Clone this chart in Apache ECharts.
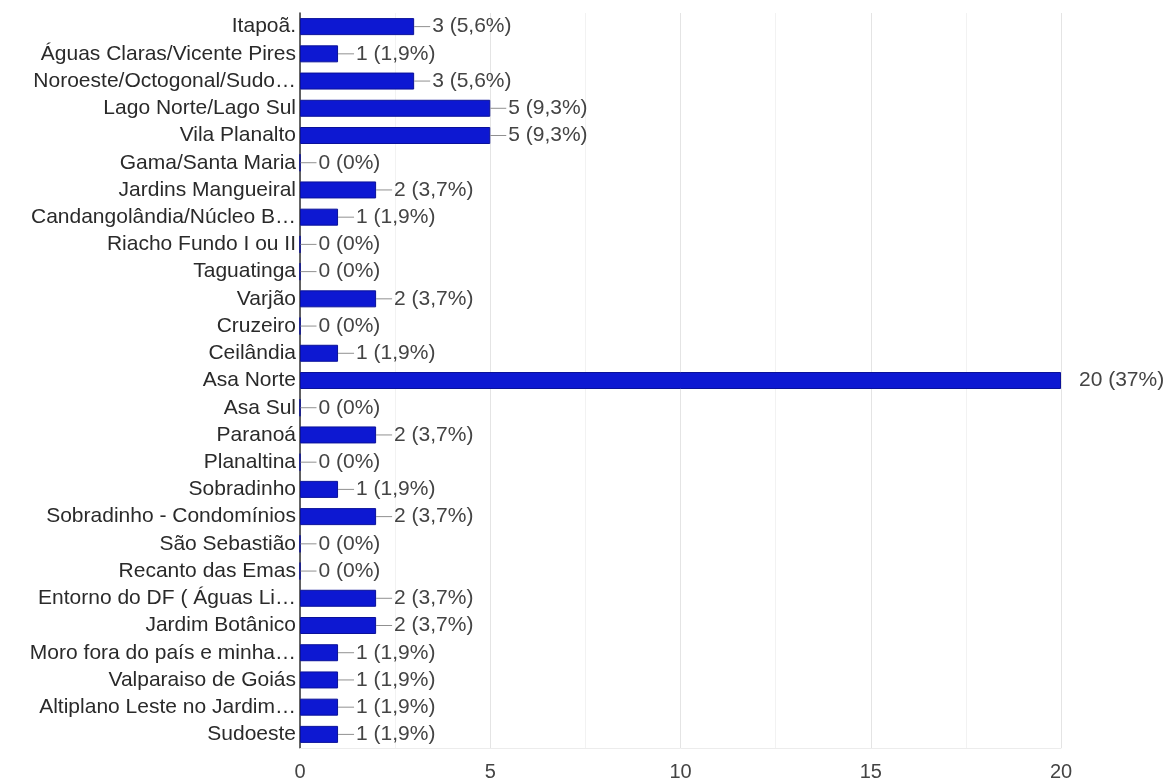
<!DOCTYPE html>
<html>
<head>
<meta charset="utf-8">
<script src="https://cdn.jsdelivr.net/npm/echarts@6/dist/echarts.min.js"></script>
<style>
  html, body { margin: 0; padding: 0; background: #fff; }
  #chart { width: 1172px; height: 784px; }
</style>
</head>
<body>
<div id="chart"></div>
<script>
// Região onde mora (respostas por região)
const categories = [
  'Itapoã.', 'Águas Claras/Vicente Pires', 'Noroeste/Octogonal/Sudo…',
  'Lago Norte/Lago Sul', 'Vila Planalto', 'Gama/Santa Maria',
  'Jardins Mangueiral', 'Candangolândia/Núcleo B…', 'Riacho Fundo I ou II',
  'Taguatinga', 'Varjão', 'Cruzeiro', 'Ceilândia', 'Asa Norte', 'Asa Sul',
  'Paranoá', 'Planaltina', 'Sobradinho', 'Sobradinho - Condomínios',
  'São Sebastião', 'Recanto das Emas', 'Entorno do DF ( Águas Li…',
  'Jardim Botânico', 'Moro fora do país e minha…', 'Valparaiso de Goiás',
  'Altiplano Leste no Jardim…', 'Sudoeste'
];
const counts = [3, 1, 3, 5, 5, 0, 2, 1, 0, 0, 2, 0, 1, 20, 0, 2, 0, 1, 2, 0, 0, 2, 2, 1, 1, 1, 1];
const percents = [
  '5,6%', '1,9%', '5,6%', '9,3%', '9,3%', '0%', '3,7%', '1,9%', '0%',
  '0%', '3,7%', '0%', '1,9%', '37%', '0%', '3,7%', '0%', '1,9%', '3,7%',
  '0%', '0%', '3,7%', '3,7%', '1,9%', '1,9%', '1,9%', '1,9%'
];
const xTicks = [0, 5, 10, 15, 20];

const FONT = '"Liberation Sans", Arial, sans-serif';
const xMax = xTicks[xTicks.length - 1];

const barData = counts.map((v, i) => {
  const item = { value: v };
  if (v >= xMax) {
    // full-width bar: value text sits beyond the plot without a leader
    item.label = {
      formatter: () => v + ' (' + percents[i] + ')',
      distance: 18
    };
  }
  return item;
});

const chart = echarts.init(document.getElementById('chart'), null, { renderer: 'canvas' });
chart.setOption({
  animation: false,
  backgroundColor: '#ffffff',
  grid: { left: 300, right: 111, top: 13, bottom: 36, containLabel: false },
  xAxis: {
    type: 'value',
    min: 0,
    max: xMax,
    interval: 5,
    axisLine: { show: true, lineStyle: { color: '#ececec', width: 1 } },
    axisTick: { show: false },
    axisLabel: {
      color: '#444',
      fontFamily: FONT,
      fontSize: 20,
      margin: 14,
      formatter: v => xTicks.includes(v) ? String(v) : ''
    },
    splitLine: { show: true, lineStyle: { color: '#e4e4e4', width: 1 } },
    minorTick: { show: false, splitNumber: 2 },
    minorSplitLine: { show: true, lineStyle: { color: '#f2f2f2', width: 1 } }
  },
  yAxis: {
    type: 'category',
    data: categories,
    inverse: true,
    axisLine: { show: true, lineStyle: { color: '#333', width: 1.5 } },
    axisTick: { show: false },
    axisLabel: {
      interval: 0,
      color: '#2a2a2a',
      fontFamily: FONT,
      fontSize: 21,
      margin: 4
    },
    splitLine: { show: false }
  },
  series: [{
    type: 'bar',
    data: barData,
    barWidth: 17,
    itemStyle: { color: '#0d18d2', borderColor: '#0a1199', borderWidth: 1 },
    label: {
      show: true,
      position: 'right',
      distance: 0,
      fontFamily: FONT,
      fontSize: 21,
      color: '#444',
      formatter: p => '{ln|}{t|' + p.value + ' (' + percents[p.dataIndex] + ')}',
      rich: {
        ln: { width: 16, height: 1, backgroundColor: '#909090', verticalAlign: 'middle' },
        t: { fontFamily: FONT, fontSize: 21, color: '#444', padding: [0, 0, 0, 2] }
      }
    }
  }]
});
</script>
</body>
</html>
